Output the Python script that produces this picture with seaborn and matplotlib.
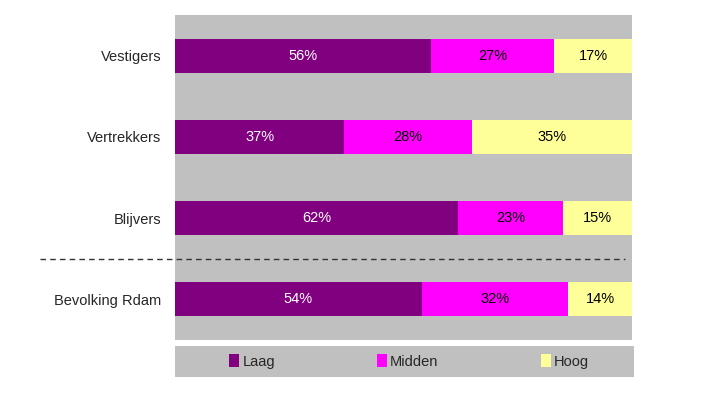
import numpy as np
import pandas as pd
import matplotlib
matplotlib.use("Agg")
import matplotlib.pyplot as plt
import seaborn as sns
from matplotlib.patches import Patch

groups = ["Vestigers", "Vertrekkers", "Blijvers", "Bevolking Rdam"]
laag = [56, 37, 62, 54]
midden = [27, 28, 23, 32]
hoog = [17, 35, 15, 14]
levels = ["Laag", "Midden", "Hoog"]
colors = {"Laag": "#800080", "Midden": "#FF00FF", "Hoog": "#FFFF99"}
text_colors = {"Laag": "white", "Midden": "black", "Hoog": "black"}

sns.set_style("white")
plt.rcParams["font.family"] = ["Liberation Sans", "DejaVu Sans"]

df = pd.DataFrame({"groep": groups, "Laag": laag, "Midden": midden, "Hoog": hoog})
df["cum_laag"] = df["Laag"]
df["cum_midden"] = df["Laag"] + df["Midden"]
df["cum_hoog"] = df["Laag"] + df["Midden"] + df["Hoog"]

fig = plt.figure(figsize=(7.05, 3.96), dpi=100)
ax = fig.add_axes([175 / 705, 1 - 340 / 396, 457 / 705, 325 / 396])
ax.set_facecolor("#C0C0C0")

# stacked bars drawn back to front from cumulative totals
for col, lvl in [("cum_hoog", "Hoog"), ("cum_midden", "Midden"), ("cum_laag", "Laag")]:
    sns.barplot(data=df, y="groep", x=col, orient="h", color=colors[lvl],
                width=0.42, saturation=1, ax=ax, linewidth=0)

ax.set_xlim(0, 100)
ax.set_ylim(3.5, -0.5)
for i in range(len(groups)):
    start = 0
    for lvl in levels:
        val = df.loc[i, lvl]
        ax.text(start + val / 2, i, f"{val}%", ha="center", va="center",
                fontsize=10.5, color=text_colors[lvl])
        start += val

ax.set_xlabel("")
ax.set_ylabel("")
ax.set_xticks([])
ax.tick_params(axis="y", length=0, pad=10, labelsize=10.5)
for s in ax.spines.values():
    s.set_visible(False)

# dashed separator between the groups and the population line
ax.plot([-29.5, 98.5], [2.5, 2.5], color="#333333", linestyle=(0, (4, 3)),
        linewidth=1, clip_on=False)

# legend strip
lax = fig.add_axes([175 / 705, 1 - 377 / 396, 459 / 705, 31 / 396])
lax.set_facecolor("#C0C0C0")
lax.set_xticks([])
lax.set_yticks([])
for s in lax.spines.values():
    s.set_visible(False)
handles = [Patch(facecolor=colors[l], edgecolor="none", label=l) for l in levels]
lax.legend(handles=handles, ncol=3, loc="center", frameon=False, fontsize=10.5,
           handlelength=0.7, handleheight=0.9, handletextpad=0.2,
           columnspacing=7.0, bbox_to_anchor=(0.51, 0.5))

fig.savefig("out.png", dpi=100)
